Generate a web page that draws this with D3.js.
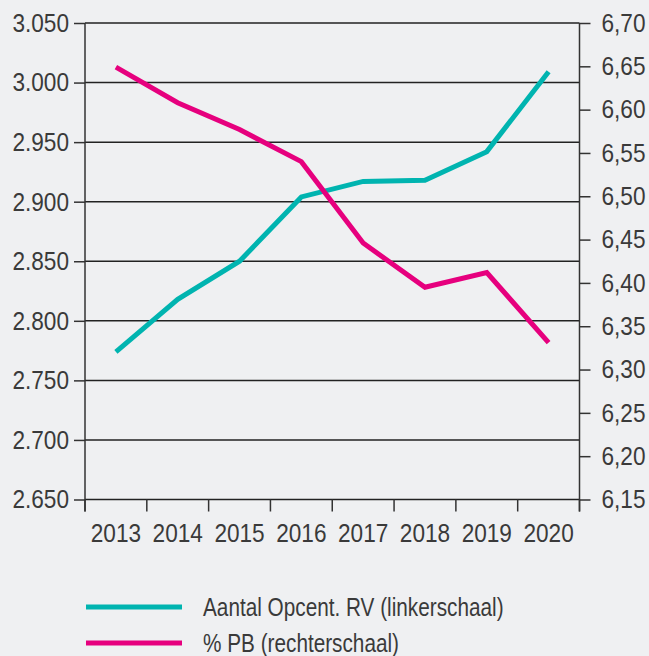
<!DOCTYPE html>
<html>
<head>
<meta charset="utf-8">
<script src="https://cdn.jsdelivr.net/npm/d3@7.9.0/dist/d3.min.js"></script>
<style>
  body { margin: 0; background: #eff0f2; }
  svg { display: block; }
  text { font-family: "Liberation Sans Narrow", "Liberation Sans", sans-serif; fill: #3a3a3a; }
</style>
</head>
<body>
<svg width="649" height="656"></svg>
<script>
const years = ['2013', '2014', '2015', '2016', '2017', '2018', '2019', '2020'];
const opcenten = [2.774, 2.818, 2.850, 2.904, 2.917, 2.918, 2.942, 3.009];
const pbShare = [6.649, 6.608, 6.577, 6.540, 6.446, 6.395, 6.412, 6.331];
const leftTicks = [2.65, 2.70, 2.75, 2.80, 2.85, 2.90, 2.95, 3.00, 3.05];
const rightTicks = [6.15, 6.20, 6.25, 6.30, 6.35, 6.40, 6.45, 6.50, 6.55, 6.60, 6.65, 6.70];
const seriesNames = ['Aantal Opcent. RV (linkerschaal)', '% PB (rechterschaal)'];
const colors = ['#00b4b0', '#e6007e'];

const svg = d3.select('svg');
const plotLeft = 85, plotRight = 579.5, plotTop = 23, plotBottom = 499.5;

const x = d3.scaleBand().domain(years).range([plotLeft, plotRight]);
const yL = d3.scaleLinear().domain([2.65, 3.05]).range([plotBottom, plotTop]);
const yR = d3.scaleLinear().domain([6.15, 6.70]).range([plotBottom, plotTop]);

const fmtL = d3.format('.3f');
const fmtR = v => d3.format('.2f')(v).replace('.', ',');

// squeeze text horizontally, the original uses a condensed face
function narrow(sel, k) {
  sel.each(function () {
    const t = d3.select(this);
    const tx = +t.attr('x') || 0;
    t.attr('x', 0).attr('transform', `translate(${tx},0) scale(${k},1)`);
  });
}

// gridlines
svg.append('g')
  .selectAll('line')
  .data(leftTicks)
  .join('line')
  .attr('x1', plotLeft).attr('x2', plotRight)
  .attr('y1', d => yL(d)).attr('y2', d => yL(d))
  .attr('stroke', '#222').attr('stroke-width', 1.5);

// left axis
const gL = svg.append('g')
  .attr('transform', `translate(${plotLeft},0)`)
  .call(d3.axisLeft(yL).tickValues(leftTicks).tickSize(11).tickPadding(5).tickFormat(fmtL));
gL.select('.domain').remove();
gL.selectAll('.tick line').attr('stroke', '#333').attr('stroke-width', 1.5);
gL.selectAll('.tick text').attr('font-size', 26).attr('font-family', null).call(narrow, 0.87);

// right axis
const gR = svg.append('g')
  .attr('transform', `translate(${plotRight},0)`)
  .call(d3.axisRight(yR).tickValues(rightTicks).tickSize(11).tickPadding(11).tickFormat(fmtR));
gR.select('.domain').remove();
gR.selectAll('.tick line').attr('stroke', '#333').attr('stroke-width', 1.5);
gR.selectAll('.tick text').attr('font-size', 26).attr('font-family', null).call(narrow, 0.87);

// vertical axis lines
[plotLeft, plotRight].forEach(px => {
  svg.append('line')
    .attr('x1', px).attr('x2', px)
    .attr('y1', plotTop).attr('y2', plotBottom + 12)
    .attr('stroke', '#333').attr('stroke-width', 1.5);
});

// x axis boundary ticks
const bounds = years.map(d => x(d)).concat([x(years[years.length - 1]) + x.bandwidth()]);
svg.append('g')
  .selectAll('line')
  .data(bounds)
  .join('line')
  .attr('x1', d => d).attr('x2', d => d)
  .attr('y1', plotBottom).attr('y2', plotBottom + 12)
  .attr('stroke', '#333').attr('stroke-width', 1.5);

// x labels
const gX = svg.append('g')
  .attr('transform', `translate(0,${plotBottom})`)
  .call(d3.axisBottom(x).tickSize(0).tickPadding(24));
gX.select('.domain').remove();
gX.selectAll('.tick text').attr('font-size', 26).attr('font-family', null).call(narrow, 0.87);

// lines
const cx = d => x(d) + x.bandwidth() / 2;
const lineL = d3.line().x((d, i) => cx(years[i])).y(d => yL(d));
const lineR = d3.line().x((d, i) => cx(years[i])).y(d => yR(d));

svg.append('path')
  .attr('d', lineL(opcenten))
  .attr('fill', 'none').attr('stroke', colors[0]).attr('stroke-width', 5);
svg.append('path')
  .attr('d', lineR(pbShare))
  .attr('fill', 'none').attr('stroke', colors[1]).attr('stroke-width', 5);

// legend
const legend = svg.append('g');
seriesNames.forEach((name, i) => {
  const ly = 607 + i * 36;
  legend.append('line')
    .attr('x1', 86).attr('x2', 182)
    .attr('y1', ly).attr('y2', ly)
    .attr('stroke', colors[i]).attr('stroke-width', 5);
  legend.append('text')
    .attr('x', 203).attr('y', ly)
    .attr('dy', '0.35em')
    .attr('font-size', 25)
    .text(name)
    .call(narrow, 0.83);
});
</script>
</body>
</html>
